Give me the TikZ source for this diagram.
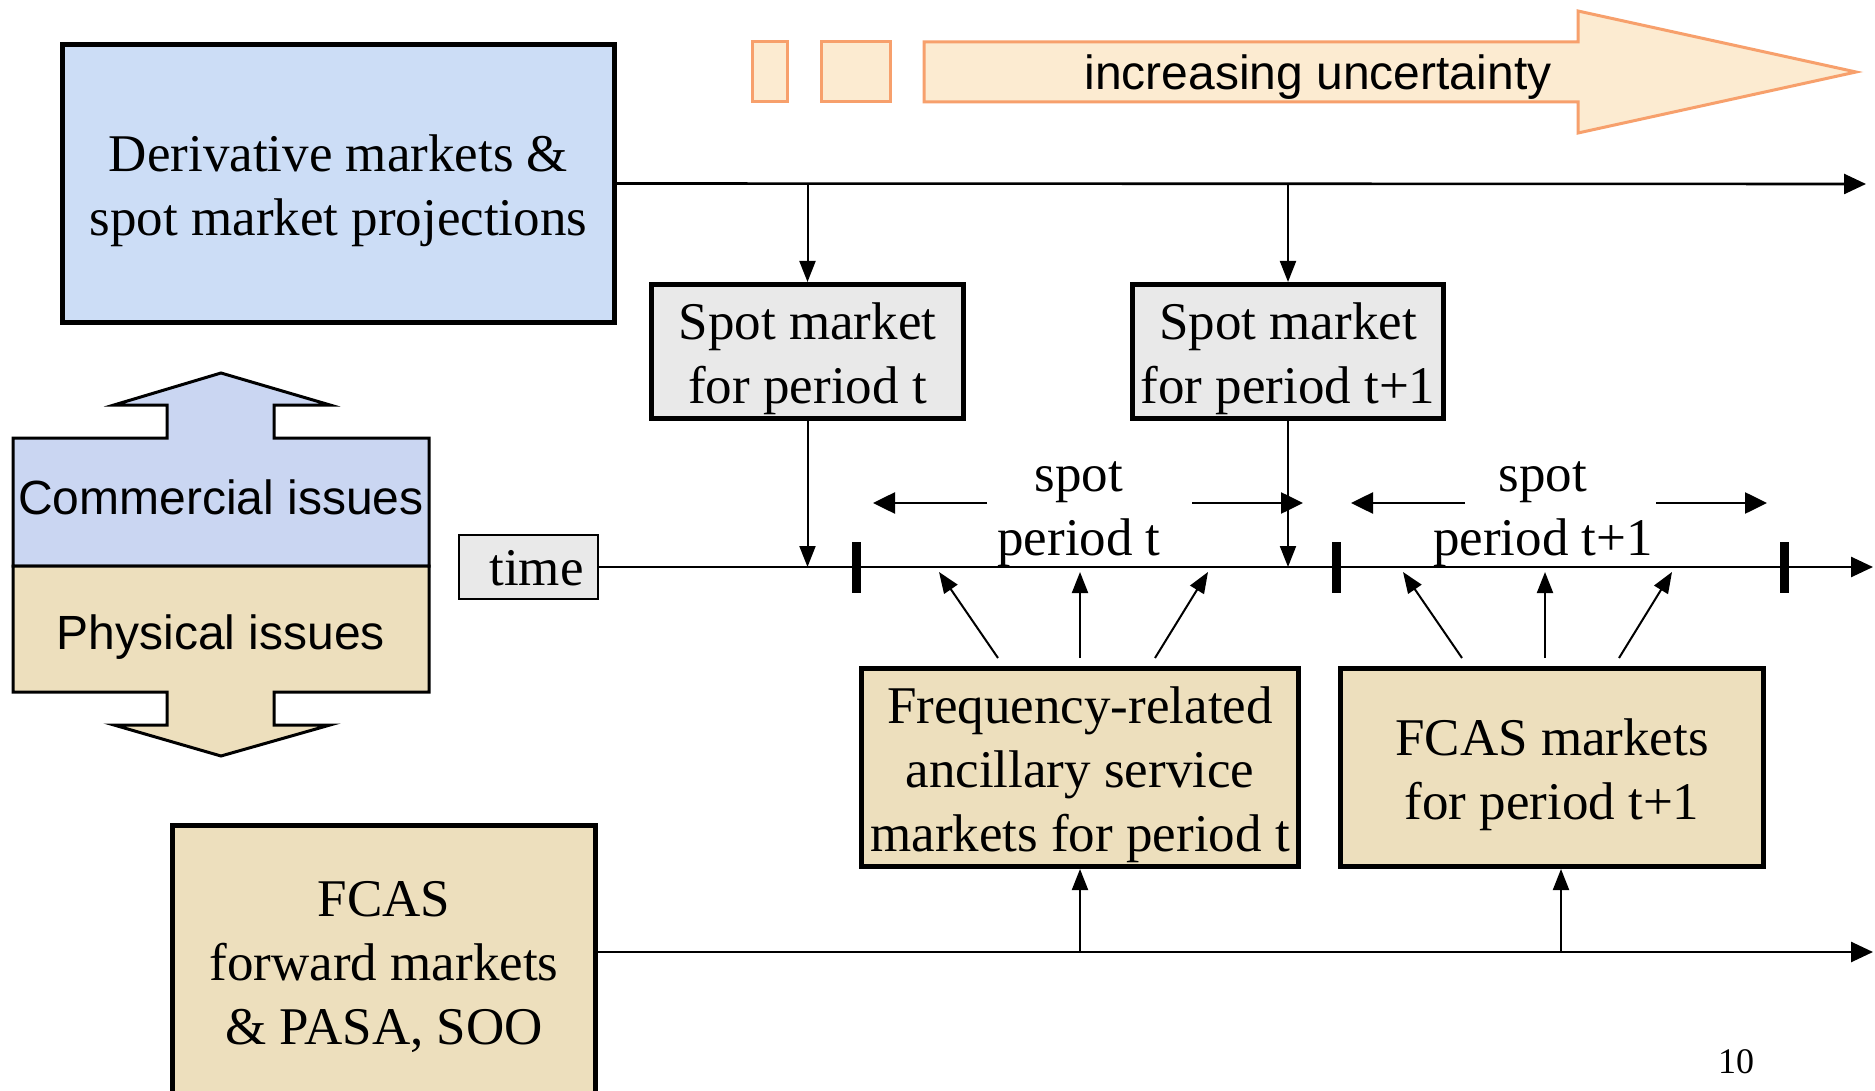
\documentclass[tikz,border=0pt]{standalone}
\usepackage{fontspec}
\setmainfont{Liberation Serif}
\setsansfont{Liberation Sans}
\usetikzlibrary{arrows.meta,calc}
\definecolor{bluetex}{HTML}{CCDDF6}
\definecolor{purptex}{HTML}{CAD6F2}
\definecolor{beigetex}{HTML}{EDDFBD}
\definecolor{grayfill}{HTML}{E9E9E9}
\definecolor{orangeline}{HTML}{F7A06C}
\definecolor{orangefill}{HTML}{FCEBD1}
\newcommand{\txtdown}[2]{\raisebox{-#1}[\height][\depth]{\begin{tabular}{@{}c@{}}#2\end{tabular}}}
\begin{document}
\begin{tikzpicture}[x=1pt,y=-1pt,
 serif/.style={font=\fontsize{53}{64}\selectfont},
 sans/.style={font=\sffamily\fontsize{48}{58}\selectfont},
 mbox/.style={draw=black, line width=5pt, inner sep=0pt, serif},
 tline/.style={line width=2.6pt, -{Triangle[length=22pt,width=20pt]}},
 conn/.style={line width=2pt, -{Triangle[length=21pt,width=16pt]}},
 sconn/.style={line width=2.6pt, -{Triangle[length=22pt,width=21pt]}},
 tickbar/.style={line width=9pt},
 orangebox/.style={draw=orangeline, fill=orangefill, line width=3pt},
]
\useasboundingbox (0,0) rectangle (1875,1091);
\fill[white] (0,0) rectangle (1875,1091);

% increasing uncertainty arrow
\draw[orangebox] (752,42) rectangle (787,102);
\draw[orangebox] (821,42) rectangle (890,102);
\draw[orangebox] (924,42) -- (1578,42) -- (1578,11) -- (1856,72) -- (1578,133) -- (1578,102) -- (924,102) -- cycle;
\node[sans] (unc) at (1318,77.5) {increasing uncertainty};

% boxes
\node[mbox, fill=bluetex, minimum width=552pt, minimum height=278pt] (deriv) at (338.5,183.5) {\txtdown{7pt}{Derivative markets \&\\spot market projections}};
\node[mbox, fill=grayfill, minimum width=312pt, minimum height=134pt] (spt) at (807.5,351.5) {\txtdown{7pt}{Spot market\\for period t}};
\node[mbox, fill=grayfill, minimum width=311pt, minimum height=134pt] (spt1) at (1288,351.5) {\txtdown{7pt}{Spot market\\for period t+1}};
\node[draw=black, line width=1.5pt, fill=grayfill, minimum width=139pt, minimum height=58pt, inner sep=0pt, serif] (time) at (528.5,567) {\txtdown{6pt}{\hspace{16pt}time}};
\node[mbox, fill=beigetex, minimum width=437pt, minimum height=198pt] (fr) at (1080,767.5) {\txtdown{7pt}{Frequency-related\\ancillary service\\markets for period t}};
\node[mbox, fill=beigetex, minimum width=423pt, minimum height=198pt] (fc1) at (1552,767.5) {\txtdown{7pt}{FCAS markets\\for period t+1}};
\node[mbox, fill=beigetex, minimum width=423pt, minimum height=280pt] (fwd) at (384,965) {\txtdown{3pt}{FCAS\\forward markets\\\& PASA, SOO}};

% left double arrow
\draw[line width=3pt, fill=purptex] (221,373) -- (330,405) -- (274,405) -- (274,438) -- (429,438) -- (429,566) -- (13,566) -- (13,438) -- (167,438) -- (167,405) -- (114,405) -- cycle;
\draw[line width=3pt, fill=beigetex] (13,566) -- (429,566) -- (429,692) -- (274,692) -- (274,725) -- (330,725) -- (221,756) -- (114,725) -- (167,725) -- (167,692) -- (13,692) -- cycle;
\node[sans] (comm) at (221,497) {Commercial issues};
\node[sans] (phys) at (221,637.5) {Physical issues};

% main lines
\coordinate (topend) at (1866,184);
\coordinate (timeend) at (1873,567);
\coordinate (botend) at (1873,952);
\draw[tline] (deriv.east) -- (topend);
\draw[tline] (time.east) -- (timeend);
\draw[tline] (fwd.east |- botend) -- (botend);

% ticks
\draw[tickbar] (856,542) -- (856,593);
\draw[tickbar] (1336,542) -- (1336,593);
\draw[tickbar] (1784,542) -- (1784,593);

% spot market arrows
\draw[conn] (spt.north |- topend) -- (spt.north);
\draw[conn] (spt1.north |- topend) -- (spt1.north);
\draw[conn] (spt.south) -- (spt.south |- timeend);
\draw[conn] (spt1.south) -- (spt1.south |- timeend);

% spot period labels
\node[serif] (sp1) at (1079,482) {spot};
\node[serif] (pp1) at (1079,543) {period t};
\node[serif] (sp2) at (1543,482) {spot};
\node[serif] (pp2) at (1543,543) {period t+1};
\coordinate (l1a) at (987,503); \coordinate (l1b) at (873,503);
\coordinate (r1a) at (1192,503); \coordinate (r1b) at (1303,503);
\coordinate (l2a) at (1465,503); \coordinate (l2b) at (1351,503);
\coordinate (r2a) at (1656,503); \coordinate (r2b) at (1767,503);
\draw[sconn] (l1a) -- (l1b);
\draw[sconn] (r1a) -- (r1b);
\draw[sconn] (l2a) -- (l2b);
\draw[sconn] (r2a) -- (r2b);

% FCAS arrows to time line
\coordinate (a1) at (939,572); \coordinate (a2) at (1080,572); \coordinate (a3) at (1208,572);
\coordinate (a4) at (1403,572); \coordinate (a5) at (1545,572); \coordinate (a6) at (1672,572);
\draw[conn] ($(fr.north)+(-82,-8)$) -- (a1);
\draw[conn] ($(fr.north)+(0,-8)$) -- (a2);
\draw[conn] ($(fr.north)+(75,-8)$) -- (a3);
\draw[conn] ($(fc1.north)+(-90,-8)$) -- (a4);
\draw[conn] ($(fc1.north)+(-7,-8)$) -- (a5);
\draw[conn] ($(fc1.north)+(67,-8)$) -- (a6);

% bottom line arrows
\draw[conn] (fr.south |- botend) -- (fr.south);
\draw[conn] ($(fc1.south |- botend)+(9,0)$) -- ($(fc1.south)+(9,0)$);

% page number
\node[font=\fontsize{36}{40}\selectfont] (pg) at (1736,1062) {10};
\end{tikzpicture}
\end{document}
